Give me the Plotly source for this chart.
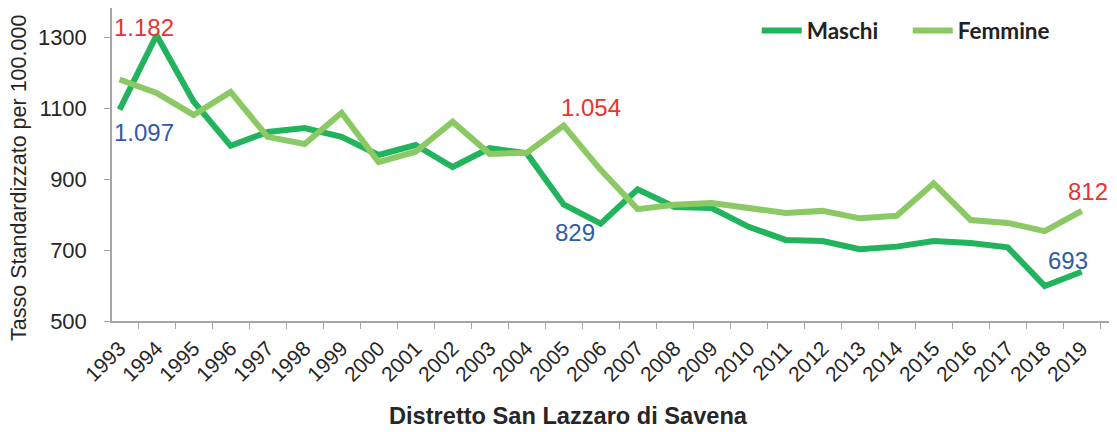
import plotly.graph_objects as go

years = [str(y) for y in range(1993, 2020)]
maschi = [1097, 1307, 1120, 995, 1034, 1045, 1020, 969, 997, 935, 988, 974, 829,
          775, 872, 822, 819, 766, 729, 726, 703, 710, 726, 720, 708, 599, 639]
femmine = [1182, 1144, 1082, 1147, 1020, 1000, 1088, 949, 978, 1063, 972, 975, 1052,
           927, 816, 828, 833, 817, 805, 811, 790, 797, 889, 785, 777, 754, 811]

# annotation labels: (text, x index, y value, color)
labels = [
    ("1.182", 0.66, 1330, "#E8332F"),
    ("1.097", 0.66, 1031, "#2E5BAA"),
    ("1.054", 12.74, 1104, "#E8332F"),
    ("829", 12.3, 749, "#2E5BAA"),
    ("812", 26.17, 867, "#E8332F"),
    ("693", 25.64, 672, "#2E5BAA"),
]

fig = go.Figure()
fig.add_trace(go.Scatter(x=years, y=maschi, name="Maschi", mode="lines",
                         line=dict(color="#22B45C", width=6)))
fig.add_trace(go.Scatter(x=years, y=femmine, name="Femmine", mode="lines",
                         line=dict(color="#8AC964", width=6)))

for t, x, y, c in labels:
    fig.add_annotation(x=x, y=y, xref="x", yref="y", text=t, showarrow=False,
                       font=dict(family="Liberation Sans, Arial", size=24, color=c))

# axis titles as annotations (positioned like the original)
fig.add_annotation(x=-0.0932, y=0.457, xref="paper", yref="paper", textangle=-90,
                   text="Tasso Standardizzato per 100.000", showarrow=False,
                   xanchor="center", yanchor="middle",
                   font=dict(family="Liberation Sans, Arial", size=21.5, color="#262626"))
fig.add_annotation(x=0.457, y=-0.3035, xref="paper", yref="paper",
                   text="<b>Distretto San Lazzaro di Savena</b>", showarrow=False,
                   xanchor="center", yanchor="middle",
                   font=dict(family="Liberation Sans, Arial", size=23.6, color="#262626"))

fig.update_layout(
    width=1109, height=424,
    margin=dict(l=104, r=7, t=0, b=111),
    plot_bgcolor="white", paper_bgcolor="white",
    font=dict(family="Liberation Sans, Arial", color="#262626"),
    legend=dict(orientation="h", x=0.646, y=0.927, xanchor="left", yanchor="middle",
                font=dict(family="Lato", size=22.5, color="#222222", weight="bold"),
                bgcolor="rgba(0,0,0,0)", itemwidth=40, tracegroupgap=0,
                entrywidth=96),
    xaxis=dict(type="category", tickangle=-45, tickson="boundaries", automargin=False,
               showline=True, linecolor="#A6A6A6", linewidth=1.5,
               ticks="outside", ticklen=6, tickcolor="#A6A6A6", ticklabelstandoff=5,
               tickfont=dict(size=21, color="#262626"), showgrid=False),
    yaxis=dict(range=[500, 1384], tickvals=[500, 700, 900, 1100, 1300], automargin=False,
               showline=True, linecolor="#A6A6A6", linewidth=1.5,
               ticks="outside", ticklen=6, tickcolor="#A6A6A6", ticklabelstandoff=13,
               tickfont=dict(size=22, color="#262626"), showgrid=False, zeroline=False),
)

fig.write_html("out.html")
